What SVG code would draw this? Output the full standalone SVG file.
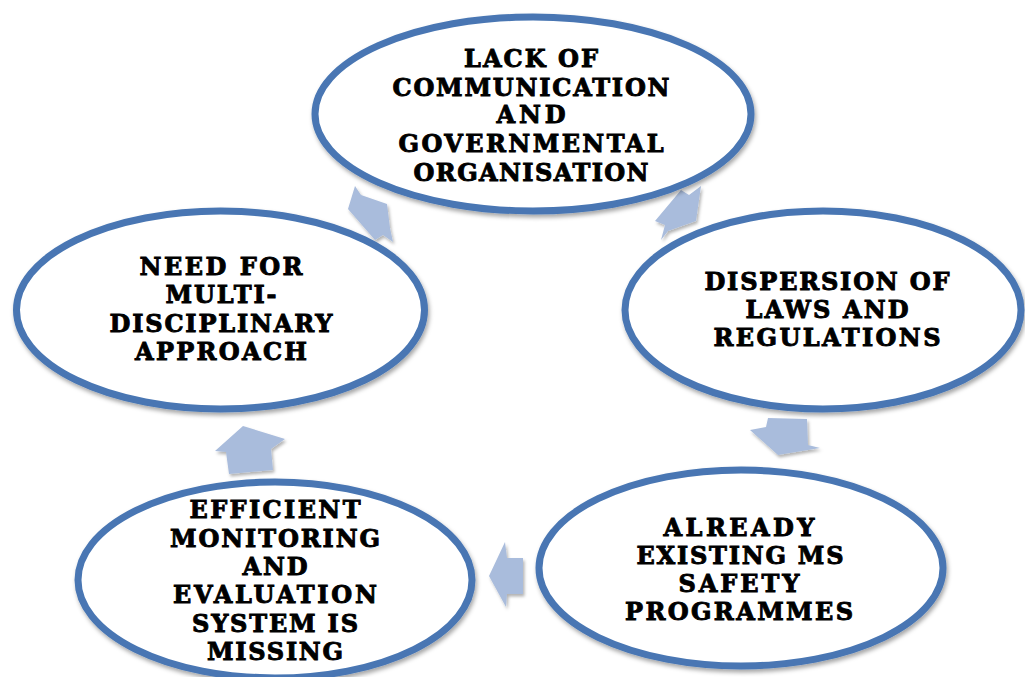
<svg xmlns="http://www.w3.org/2000/svg" width="1025" height="677" viewBox="0 0 1025 677">
  <defs>
    <filter id="sh" x="-10%" y="-10%" width="120%" height="130%">
      <feDropShadow dx="1.5" dy="3" stdDeviation="2" flood-color="#000" flood-opacity="0.35"/>
    </filter>
    <filter id="ash" x="-20%" y="-20%" width="150%" height="150%">
      <feDropShadow dx="1.5" dy="2.5" stdDeviation="1.5" flood-color="#000" flood-opacity="0.3"/>
    </filter>
  </defs>
  <style>
    .node ellipse { fill: #ffffff; stroke: #4876b3; stroke-width: 7; filter: url(#sh); }
    .node text { font-family: "DejaVu Serif", "Liberation Serif", serif; font-weight: bold; font-size: 24px; fill: #000; stroke: #000; stroke-width: 0.9; text-anchor: middle; }
    .arrow { fill: #a9bcdc; filter: url(#ash); }
  </style>
  <rect width="1025" height="677" fill="#ffffff"/>

  <g id="connectors">
    <polygon class="arrow" points="355,186 361,195 387,204 390,228 393,242 383,235 375,240 348,209"/>
    <polygon class="arrow" points="681,190 689,195 701,186 696,221 668,231 661,240 665,225 655,221"/>
    <polygon class="arrow" points="750,430 766,427 768,418 807,419 808,445 820,448 778,455"/>
    <polygon class="arrow" points="505,542 489,576 506,607 507,594 523,594 523,558 507,558"/>
    <polygon class="arrow" points="243,426 285,439 271,449 273,470 229,474 226,452 215,451"/>
  </g>

  <g id="node-lack-of-communication" class="node">
    <ellipse cx="533" cy="114" rx="218" ry="97"/>
    <text x="531" y="67" textLength="134">LACK OF</text>
    <text x="531" y="96" textLength="277">COMMUNICATION</text>
    <text x="531" y="123" textLength="69">AND</text>
    <text x="531" y="152" textLength="265">GOVERNMENTAL</text>
    <text x="531" y="181" textLength="235">ORGANISATION</text>
  </g>

  <g id="node-dispersion-of-laws" class="node">
    <ellipse cx="823" cy="310" rx="198" ry="99"/>
    <text x="827" y="290" textLength="245">DISPERSION OF</text>
    <text x="827" y="318" textLength="163">LAWS AND</text>
    <text x="827" y="346" textLength="227">REGULATIONS</text>
  </g>

  <g id="node-already-existing" class="node">
    <ellipse cx="741" cy="568" rx="202" ry="98"/>
    <text x="739" y="536" textLength="151">ALREADY</text>
    <text x="740" y="564" textLength="207">EXISTING MS</text>
    <text x="739" y="592" textLength="121">SAFETY</text>
    <text x="739" y="620" textLength="228">PROGRAMMES</text>
  </g>

  <g id="node-efficient-monitoring" class="node">
    <ellipse cx="275" cy="580" rx="197" ry="98"/>
    <text x="275" y="518" textLength="171">EFFICIENT</text>
    <text x="275" y="547" textLength="210">MONITORING</text>
    <text x="275" y="575" textLength="65">AND</text>
    <text x="275" y="603" textLength="204">EVALUATION</text>
    <text x="275" y="632" textLength="166">SYSTEM IS</text>
    <text x="275" y="660" textLength="136">MISSING</text>
  </g>

  <g id="node-need-for-multidisciplinary" class="node">
    <ellipse cx="220.5" cy="310" rx="204" ry="99"/>
    <text x="221" y="275" textLength="163">NEED FOR</text>
    <text x="221" y="303" textLength="111">MULTI-</text>
    <text x="221" y="332" textLength="223">DISCIPLINARY</text>
    <text x="221" y="360" textLength="172">APPROACH</text>
  </g>
</svg>
